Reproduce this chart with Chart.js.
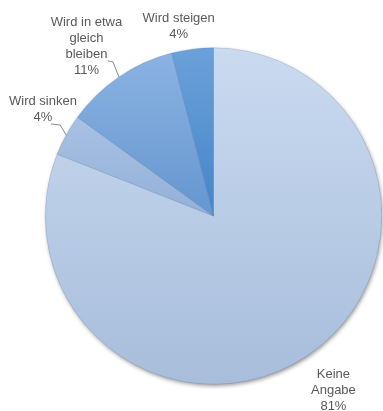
<!DOCTYPE html>
<html>
<head>
<meta charset="utf-8">
<script src="https://cdn.jsdelivr.net/npm/chart.js@4"></script>
<style>
  html, body { margin: 0; padding: 0; background: #fff; }
  #wrap { width: 383px; height: 411px; position: relative; }
</style>
</head>
<body>
<div id="wrap"><canvas id="pieChart"></canvas></div>
<script>
const categories = ['Keine Angabe', 'Wird sinken', 'Wird in etwa gleich bleiben', 'Wird steigen'];
const shares = [81, 4, 11, 4];
// label lines as they are set (line breaks included)
const labelLines = [
    ['Keine', 'Angabe'],
    ['Wird sinken'],
    ['Wird in etwa', 'gleich', 'bleiben'],
    ['Wird steigen'],
];

// top / bottom colour of each slice gradient
const sliceColors = [
    ['#cadbf0', '#a7bddb'],
    ['#b6cdeb', '#94b0d8'],
    ['#8cb4e3', '#6596d0'],
    ['#6ba1d9', '#4585cb'],
];

// label placement: distance from centre (px) along the slice mid-angle, plus a nudge
const labelPlacement = [
    { dist: 208, dx: 3, dy: 2 },
    { dist: 198, dx: 3, dy: -11 },
    { dist: 210, dx: -9, dy: 4 },
    { dist: 190, dx: -11, dy: -1 },
];
// leader lines: elbow offset from the rim point, then horizontal run
const leaders = [null, { ex: -6, ey: -10, run: -9 }, { ex: -6, ey: -15, run: -5 }, null];

function sliceGradient(context) {
    const chart = context.chart;
    const area = chart.chartArea;
    if (!area) {
        return sliceColors[context.dataIndex][0];
    }
    const i = context.dataIndex;
    const midY = (area.top + area.bottom) / 2;
    const bottom = i === 0 ? area.bottom : midY;
    const g = chart.ctx.createLinearGradient(0, area.top, 0, bottom);
    g.addColorStop(0, sliceColors[i][0]);
    g.addColorStop(1, sliceColors[i][1]);
    return g;
}

const pieShadow = {
    id: 'pieShadow',
    beforeDatasetsDraw(chart) {
        const arc = chart.getDatasetMeta(0).data[0];
        if (!arc) return;
        const ctx = chart.ctx;
        ctx.save();
        ctx.shadowColor = 'rgba(0, 0, 0, 0.45)';
        ctx.shadowBlur = 4;
        ctx.shadowOffsetX = 1;
        ctx.shadowOffsetY = 2;
        ctx.fillStyle = '#b8cbe4';
        ctx.beginPath();
        ctx.arc(arc.x, arc.y, arc.outerRadius - 0.5, 0, Math.PI * 2);
        ctx.fill();
        ctx.restore();
    },
};

const sliceLabels = {
    id: 'sliceLabels',
    afterDatasetsDraw(chart) {
        const ctx = chart.ctx;
        const arcs = chart.getDatasetMeta(0).data;
        ctx.save();
        ctx.font = '13px "Liberation Sans", Arial, sans-serif';
        ctx.fillStyle = '#595959';
        ctx.textAlign = 'center';
        ctx.textBaseline = 'middle';
        const lineH = 16;
        arcs.forEach((arc, i) => {
            const mid = (arc.startAngle + arc.endAngle) / 2;
            const p = labelPlacement[i];
            const cx = arc.x + Math.cos(mid) * p.dist + p.dx;
            const cy = arc.y + Math.sin(mid) * p.dist + p.dy;
            const lines = labelLines[i].concat([shares[i] + '%']);
            const top = cy - (lines.length - 1) * lineH / 2;
            lines.forEach((t, k) => ctx.fillText(t, cx, top + k * lineH));

            const l = leaders[i];
            if (l) {
                const rx = arc.x + Math.cos(mid) * arc.outerRadius;
                const ry = arc.y + Math.sin(mid) * arc.outerRadius;
                ctx.strokeStyle = '#8a8a8a';
                ctx.lineWidth = 1;
                ctx.beginPath();
                ctx.moveTo(rx, ry);
                ctx.lineTo(rx + l.ex, ry + l.ey);
                ctx.lineTo(rx + l.ex + l.run, ry + l.ey - 1);
                ctx.stroke();
            }
        });
        ctx.restore();
    },
};

new Chart(document.getElementById('pieChart'), {
    type: 'pie',
    data: {
        labels: categories,
        datasets: [{
            data: shares,
            backgroundColor: sliceGradient,
            borderWidth: 0.6,
            borderColor: 'rgba(80, 110, 150, 0.35)',
        }],
    },
    options: {
        responsive: true,
        maintainAspectRatio: false,
        animation: false,
        layout: { padding: { left: 45, right: 1, top: 47, bottom: 26 } },
        plugins: {
            legend: { display: false },
            tooltip: { enabled: false },
        },
    },
    plugins: [pieShadow, sliceLabels],
});
</script>
</body>
</html>
